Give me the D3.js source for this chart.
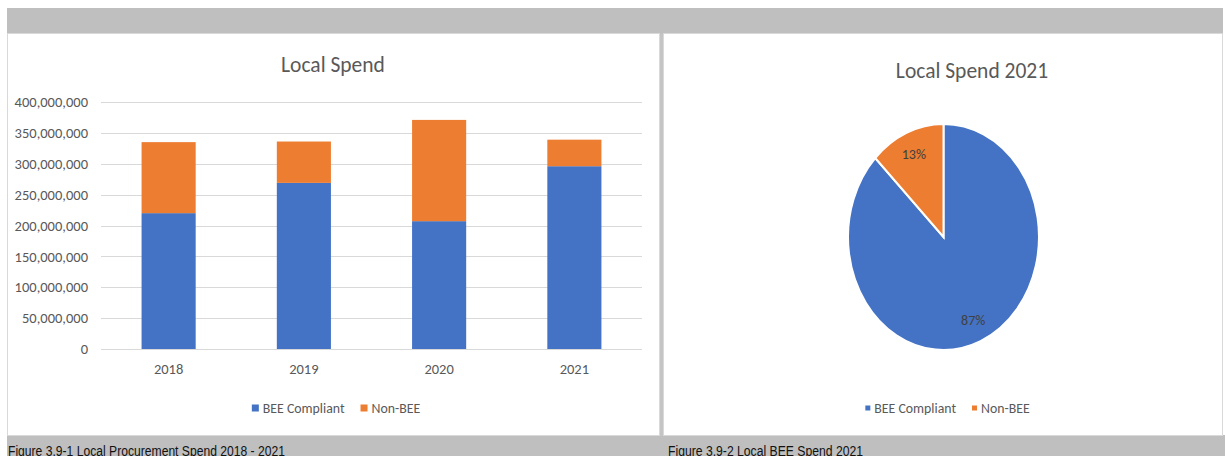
<!DOCTYPE html>
<html lang="en">
<head>
    <meta charset="UTF-8">
    <title>Local Spend</title>
    <script src="https://cdnjs.cloudflare.com/ajax/libs/d3/7.8.5/d3.min.js"></script>
    <style>
        body { margin: 0; background: #fff; }
        svg { display: block; font-family: Carlito, Lato, "Open Sans", sans-serif; }
        .tick-label { font-size: 14.5px; fill: #595959; }
        .pie-label { font-size: 14px; fill: #404040; }
        .chart-title { font-size: 21.5px; fill: #595959; }
        .legend-label { font-size: 13.8px; fill: #595959; }
        .caption { font-family: "Liberation Sans Narrow", "Liberation Sans", Arial, sans-serif; font-size: 14px; fill: #111; }
    </style>
</head>
<body>
    <div id="chart"></div>

    <script>
        // Data
        const years = ["2018", "2019", "2020", "2021"];
        const beeCompliant = [220e6, 269e6, 207e6, 296e6];
        const nonBee = [115e6, 67e6, 164e6, 43e6];
        const seriesNames = ["BEE Compliant", "Non-BEE"];
        const seriesColors = ["#4472C4", "#ED7D31"];
        const yTicks = [0, 50e6, 100e6, 150e6, 200e6, 250e6, 300e6, 350e6, 400e6];

        const width = 1225;
        const height = 456;

        const svg = d3.select("#chart").append("svg")
            .attr("width", width)
            .attr("height", height);

        // Page frame: grey bands and two white panels
        svg.append("rect").attr("x", 7).attr("y", 8).attr("width", 1216).attr("height", 26).attr("fill", "#bfbfbf");
        svg.append("rect").attr("x", 7).attr("y", 435).attr("width", 1218).attr("height", 21).attr("fill", "#bfbfbf");
        svg.append("rect").attr("x", 659).attr("y", 34).attr("width", 5).attr("height", 402).attr("fill", "#c4c4c4");
        svg.append("rect").attr("x", 7.5).attr("y", 33.5).attr("width", 652).attr("height", 402)
            .attr("fill", "#fff").attr("stroke", "#d9d9d9");
        svg.append("rect").attr("x", 663.5).attr("y", 33.5).attr("width", 559).attr("height", 402)
            .attr("fill", "#fff").attr("stroke", "#d9d9d9");

        // Captions (the page cuts them at the bottom, as in the document)
        svg.append("text").attr("class", "caption").attr("x", 8).attr("y", 456)
            .attr("textLength", 277).attr("lengthAdjust", "spacingAndGlyphs")
            .text("Figure 3.9-1 Local Procurement Spend 2018 - 2021");
        svg.append("text").attr("class", "caption").attr("x", 668).attr("y", 456)
            .attr("textLength", 195).attr("lengthAdjust", "spacingAndGlyphs")
            .text("Figure 3.9-2 Local BEE Spend 2021");

        // ---------- Stacked bar chart ----------
        const plot = { left: 101, right: 642, top: 102, bottom: 349 };

        const x = d3.scaleBand()
            .domain(years)
            .range([plot.left, plot.right])
            .paddingInner(0.6)
            .paddingOuter(0.3);

        const y = d3.scaleLinear()
            .domain([0, 400e6])
            .range([plot.bottom, plot.top]);

        svg.append("text").attr("class", "chart-title")
            .attr("x", 333).attr("y", 72).attr("text-anchor", "middle")
            .text("Local Spend");

        // gridlines
        svg.append("g").selectAll("line")
            .data(yTicks)
            .enter().append("line")
            .attr("x1", plot.left).attr("x2", plot.right)
            .attr("y1", d => Math.round(y(d)) + 0.5).attr("y2", d => Math.round(y(d)) + 0.5)
            .attr("stroke", "#d9d9d9").attr("stroke-width", 1);

        // y axis labels
        const yAxis = d3.axisLeft(y).tickValues(yTicks).tickFormat(d3.format(",")).tickSize(0).tickPadding(0);
        const yAxisG = svg.append("g").attr("transform", `translate(88,0)`).call(yAxis);
        yAxisG.select(".domain").remove();
        yAxisG.selectAll("text").attr("class", "tick-label").attr("fill", null);
        yAxisG.attr("font-family", null).attr("font-size", null);

        // x axis labels
        const xAxis = d3.axisBottom(x).tickSize(0).tickPadding(0);
        const xAxisG = svg.append("g").attr("transform", `translate(0,${plot.bottom + 15})`).call(xAxis);
        xAxisG.select(".domain").remove();
        xAxisG.selectAll("text").attr("class", "tick-label").attr("fill", null);
        xAxisG.attr("font-family", null).attr("font-size", null);

        // stacked bars
        const table = years.map((yr, i) => ({ year: yr, bee: beeCompliant[i], non: nonBee[i] }));
        const stacked = d3.stack().keys(["bee", "non"])(table);

        svg.append("g").selectAll("g")
            .data(stacked)
            .enter().append("g")
            .attr("fill", (d, i) => seriesColors[i])
            .selectAll("rect")
            .data(d => d)
            .enter().append("rect")
            .attr("x", d => x(d.data.year))
            .attr("width", x.bandwidth())
            .attr("y", d => y(d[1]))
            .attr("height", d => y(d[0]) - y(d[1]));

        // legend helper: items centred on cx
        function drawLegend(cx, cy, box) {
            const g = svg.append("g");
            const items = g.selectAll("g")
                .data(seriesNames)
                .enter().append("g");
            items.append("rect")
                .attr("width", box).attr("height", box)
                .attr("y", cy - box / 2)
                .attr("fill", (d, i) => seriesColors[i]);
            items.append("text")
                .attr("class", "legend-label")
                .attr("x", box + 4)
                .attr("y", cy + 5)
                .text(d => d);
            const widths = [];
            items.each(function() {
                widths.push(box + 4 + this.querySelector("text").getComputedTextLength());
            });
            const total = d3.sum(widths) + 16 * (widths.length - 1);
            let offset = cx - total / 2;
            items.attr("transform", (d, i) => {
                const t = `translate(${offset},0)`;
                offset += widths[i] + 16;
                return t;
            });
        }

        drawLegend(336, 408, 7);

        // ---------- Pie chart (2021) ----------
        const pieIndex = years.indexOf("2021");
        const pieValues = [beeCompliant[pieIndex], nonBee[pieIndex]];
        const pieTotal = d3.sum(pieValues);

        svg.append("text").attr("class", "chart-title")
            .attr("x", 972).attr("y", 78).attr("text-anchor", "middle")
            .text("Local Spend 2021");

        const pieCx = 943.5, pieCy = 237, radius = 113, squash = 0.845;

        const pie = d3.pie().sort(null).value(d => d);
        const arcs = pie(pieValues);
        const arc = d3.arc().innerRadius(0).outerRadius(radius);
        const labelArc = d3.arc().innerRadius(radius * 0.8).outerRadius(radius * 0.8);

        svg.append("g")
            .attr("transform", `translate(${pieCx},${pieCy}) scale(${squash},1)`)
            .selectAll("path")
            .data(arcs)
            .enter().append("path")
            .attr("d", arc)
            .attr("fill", (d, i) => seriesColors[i])
            .attr("stroke", "#fff")
            .attr("stroke-width", 2)
            .attr("vector-effect", "non-scaling-stroke");

        svg.append("g").selectAll("text")
            .data(arcs)
            .enter().append("text")
            .attr("class", "pie-label")
            .attr("text-anchor", "middle")
            .attr("x", d => pieCx + labelArc.centroid(d)[0] * squash)
            .attr("y", d => pieCy + labelArc.centroid(d)[1] + 5)
            .text(d => d3.format(".0%")(d.data / pieTotal));

        drawLegend(947.5, 408, 5);
    </script>
</body>
</html>
